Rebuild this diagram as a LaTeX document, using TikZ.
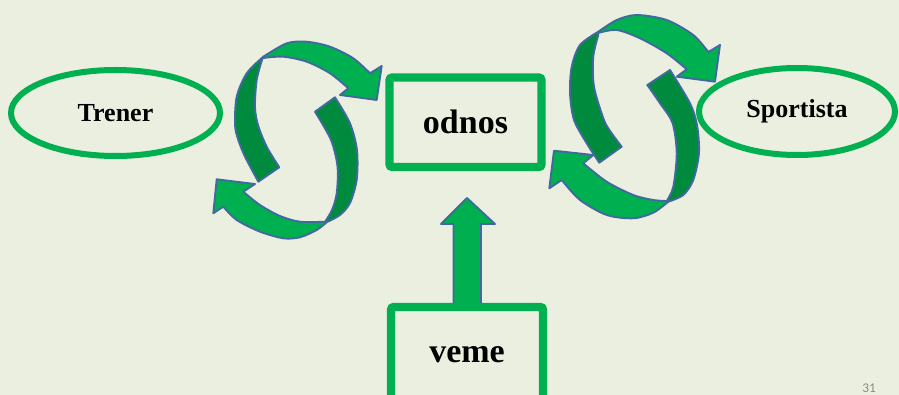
\documentclass[tikz,border=0pt]{standalone}
\usepackage{fontspec}
\setmainfont{Liberation Serif}
\newfontfamily\pagenumfont{Carlito}
\usetikzlibrary{shapes.geometric,calc}
\definecolor{slidebg}{RGB}{235,239,223}
\definecolor{boxgreen}{RGB}{0,176,80}
\definecolor{darkribbon}{RGB}{0,138,62}
\definecolor{ribbonedge}{RGB}{65,105,160}
\definecolor{pagegray}{RGB}{137,137,137}
\begin{document}
\begin{tikzpicture}[x=0.75pt,y=-0.75pt,
  roleoval/.style={ellipse, draw=boxgreen, line width=4.5pt, inner sep=0pt,
    font=\fontsize{19.5}{23}\selectfont\bfseries},
  framebox/.style={rectangle, draw=boxgreen, line width=6.2pt, rounded corners=2pt,
    inner sep=0pt, font=\fontsize{25.5}{30}\selectfont\bfseries},
  front/.style={fill=boxgreen, draw=ribbonedge, line width=1.4pt, line join=round},
  back/.style={fill=darkribbon, draw=ribbonedge, line width=1.4pt, line join=round},
  ]
% slide background
\fill[slidebg] (0,0) rectangle (899,395);
\useasboundingbox (0,0) rectangle (899,395);

% ---- left pair of circular arrows (back faces first) ----
\draw[back] plot[smooth] coordinates {(263.3,56.7) (246.7,73.3) (236.7,96.7) (235,125) (238.3,140) (245,156.7) (258.3,181.7)}
  -- plot[smooth] coordinates {(279.3,167.3) (266.7,146.7) (258,125) (255,106.7) (256.7,80) (262,60)} -- cycle;
\draw[back] plot[smooth] coordinates {(335,97.3) (350,123.3) (357,150) (356.7,180) (350,203) (340,215) (327,222)}
  -- plot[smooth] coordinates {(325,221.7) (332,210) (336.7,193.3) (337.5,166.7) (331,140) (315,111.7)} -- cycle;
\draw[front] plot[smooth] coordinates {(263.3,56.7) (286.7,43.3) (306.7,41.7) (330,46.7) (353.3,58.3) (370,73.3)}
  -- (381.7,66) -- (376.7,100) -- (340,95) -- (348.3,88.3)
  -- plot[smooth] coordinates {(348.3,88.3) (330,73.3) (306.7,61.7) (283.3,56.7) (263.3,58)} -- cycle;
\draw[front] plot[smooth] coordinates {(327,222) (316.7,230) (300,237.3) (283.3,238.3) (260,231.7) (236.7,220) (223.3,206.7)}
  -- (213.3,213.3) -- (216.7,179.3) -- (255,184) -- (243.3,191.7)
  -- plot[smooth] coordinates {(243.3,191.7) (260,205) (280,216) (300,221.7) (325,221.7)} -- cycle;

% ---- right pair of circular arrows ----
\draw[back] plot[smooth] coordinates {(598.3,31.7) (580,45) (571.7,66.7) (570,93.3) (574,120) (586.7,143.3) (599.3,162.7)}
  -- plot[smooth] coordinates {(621.7,146.7) (611.7,133.3) (604,120) (594,86.7) (593.3,56.7) (598.3,35)} -- cycle;
\draw[back] plot[smooth] coordinates {(670,70) (690,103.3) (697,125) (699,153) (693.3,180) (683.3,195) (668.3,201.7)}
  -- plot[smooth] coordinates {(666.7,201) (673.3,186.7) (676.7,153.3) (672.5,123) (660,103.3) (647.3,85)} -- cycle;
\draw[front] plot[smooth] coordinates {(598.3,31.7) (616.7,20) (636.7,15) (666.7,20) (693.3,35) (708.3,52)}
  -- (720,45) -- (715,81.7) -- (676.7,76.7) -- (686.7,69.3)
  -- plot[smooth] coordinates {(686.7,69.3) (666.7,53.3) (640,38.3) (616.7,30) (598.3,33)} -- cycle;
\draw[front] plot[smooth] coordinates {(668.3,201.7) (653.3,212.7) (633.3,218.3) (606.7,215) (580,200) (561.7,180)}
  -- (549.3,188.3) -- (554,150.7) -- (593.3,155) -- (583.3,163.3)
  -- plot[smooth] coordinates {(583.3,163.3) (606.7,181.7) (633.3,195) (653.3,200) (666.7,201)} -- cycle;

% ---- nodes ----
\node[roleoval, minimum width=156.75pt, minimum height=64.5pt] (trener) at (115.5,113) {Trener};
\node[roleoval, minimum width=147pt, minimum height=65.25pt] (sportista) at (797,111.5) {Sportista};
\node[framebox, minimum width=114pt, minimum height=67.1pt] (odnos) at (465.5,122.25) {odnos};

% block arrow rising from the lower box
\coordinate (vtop) at (467,307);
\draw[front] ($(vtop)+(-13.5,0)$) -- ($(vtop)+(-13.5,-83)$) -- ($(vtop)+(-26,-83)$)
  -- ($(vtop)+(0,-109)$) -- ($(vtop)+(28,-83)$) -- ($(vtop)+(14,-83)$) -- ($(vtop)+(14,0)$) -- cycle;
\node[framebox, fill=slidebg, minimum width=114pt, minimum height=71.25pt] (veme) at (467,354.5) {veme};

% slide number
\node[anchor=base west, inner sep=0pt, text=pagegray, font=\pagenumfont\fontsize{10}{12}\selectfont] (pagenum) at (862,392) {31};
\end{tikzpicture}
\end{document}
